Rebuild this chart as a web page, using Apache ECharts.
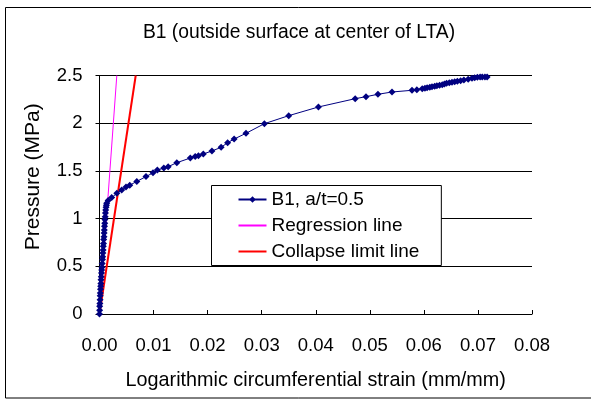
<!DOCTYPE html>
<html>
<head>
<meta charset="utf-8">
<script src="https://cdn.jsdelivr.net/npm/echarts@6/dist/echarts.min.js"></script>
<style>
html,body{margin:0;padding:0;background:#fff;}
#chart{width:591px;height:399px;}
</style>
</head>
<body>
<div id="chart"></div>
<script>
// Test data: logarithmic circumferential strain (mm/mm) vs pressure (MPa)
var testStrain = [0.0000, 0.00002, 0.00004, 0.00007, 0.00010, 0.00013, 0.00015, 0.00018, 0.00022, 0.00025,
  0.00028, 0.00032, 0.00037, 0.00041, 0.00046, 0.00050, 0.00055, 0.00059, 0.00063, 0.00067,
  0.00070, 0.00074, 0.00078, 0.00083, 0.00086, 0.00089, 0.00093, 0.00097, 0.00100, 0.00105,
  0.00110, 0.00115, 0.00121, 0.00127, 0.00133, 0.00160, 0.00226, 0.0032, 0.0041, 0.0049,
  0.0056, 0.0069, 0.0086, 0.0099, 0.0107, 0.0119, 0.0127, 0.0143, 0.0168, 0.0177,
  0.0183, 0.0192, 0.0208, 0.0225, 0.0237, 0.0249, 0.0271, 0.0305, 0.0350, 0.0405,
  0.0473, 0.0493, 0.0515, 0.0541, 0.0578, 0.0587, 0.0597, 0.0602, 0.0606, 0.0611,
  0.0615, 0.0620, 0.0624, 0.0629, 0.0634, 0.0638, 0.0642, 0.0647, 0.0652, 0.0657,
  0.0662, 0.0668, 0.0674, 0.0682, 0.0689, 0.0694, 0.0699, 0.0704, 0.0708, 0.0713, 0.0717];
var testPressure = [0.00, 0.04, 0.08, 0.11, 0.15, 0.19, 0.22, 0.26, 0.29, 0.32,
  0.36, 0.39, 0.43, 0.46, 0.49, 0.53, 0.57, 0.60, 0.64, 0.67,
  0.71, 0.74, 0.78, 0.81, 0.85, 0.88, 0.92, 0.95, 0.99, 1.02,
  1.06, 1.09, 1.12, 1.14, 1.16, 1.19, 1.22, 1.265, 1.30, 1.33,
  1.35, 1.39, 1.44, 1.48, 1.51, 1.53, 1.544, 1.586, 1.635, 1.65,
  1.66, 1.677, 1.709, 1.747, 1.796, 1.834, 1.894, 1.995, 2.079, 2.17,
  2.257, 2.278, 2.303, 2.327, 2.345, 2.351, 2.362, 2.366, 2.372, 2.377,
  2.383, 2.388, 2.393, 2.398, 2.404, 2.411, 2.418, 2.424, 2.429, 2.434,
  2.439, 2.446, 2.453, 2.461, 2.470, 2.476, 2.481, 2.483, 2.484, 2.484, 2.484];
var regressionStrain = [0, 0.0032];
var regressionPressure = [0, 2.5];
var collapseStrain = [0, 0.0067];
var collapsePressure = [0, 2.5];
var xTicks = ['0.00','0.01','0.02','0.03','0.04','0.05','0.06','0.07','0.08'];

function pairs(xs, ys){ return xs.map(function(x,i){ return [x, ys[i]]; }); }

var font = 'Liberation Sans, Arial, sans-serif';
var lineIcon = 'path://M0,0 L28,0 L28,2 L0,2 Z';
var chart = echarts.init(document.getElementById('chart'), null, {renderer:'canvas'});
chart.setOption({
  animation:false,
  backgroundColor:'#fff',
  graphic:[{type:'rect', shape:{x:5.5,y:7.5,width:620,height:390.5}, style:{fill:'none',stroke:'#000',lineWidth:1}, z:-10}],
  title:{text:'B1 (outside surface at center of LTA)', left:299, textAlign:'center', top:23, padding:0,
    textStyle:{fontFamily:font,fontSize:19.3,fontWeight:'normal',color:'#000'}},
  grid:{left:99.5, right:59, top:75.5, bottom:85, containLabel:false},
  xAxis:{type:'value', min:0, max:0.08, interval:0.01,
    name:'Logarithmic circumferential strain (mm/mm)', nameLocation:'middle', nameGap:57,
    nameTextStyle:{fontFamily:font,fontSize:19.8,color:'#000'},
    axisLine:{show:true,lineStyle:{color:'#000',width:1}},
    axisTick:{show:true,inside:true,length:4,lineStyle:{color:'#000'}},
    axisLabel:{fontFamily:font,fontSize:18.5,color:'#000',margin:22,
      formatter:function(v){ return xTicks[Math.round(v*100)]; }},
    splitLine:{show:false}},
  yAxis:{type:'value', min:0, max:2.5, interval:0.5,
    name:'Pressure (MPa)', nameLocation:'middle', nameGap:55.5,
    nameTextStyle:{fontFamily:font,fontSize:21,color:'#000',padding:[0,0,0,36]},
    axisLine:{show:true,lineStyle:{color:'#000',width:1}},
    axisTick:{show:true,inside:false,length:4,lineStyle:{color:'#000'}},
    axisLabel:{fontFamily:font,fontSize:18.5,color:'#000',margin:17},
    splitLine:{show:true,lineStyle:{color:'#000',width:1}}},
  legend:{orient:'vertical', left:211.5, top:185.5, padding:[4.5,22,4.5,26],
    backgroundColor:'#fff', borderColor:'#000', borderWidth:1,
    itemWidth:28, itemHeight:8, itemGap:7,
    textStyle:{fontFamily:font,fontSize:19,color:'#000',lineHeight:19},
    data:[{name:'B1, a/t=0.5'},{name:'Regression line',icon:lineIcon},{name:'Collapse limit line',icon:lineIcon}]},
  series:[
    {name:'B1, a/t=0.5', type:'line', data:pairs(testStrain,testPressure),
      symbol:'diamond', symbolSize:7, showAllSymbol:true,
      itemStyle:{color:'#000080'}, lineStyle:{color:'#000080',width:1}, z:3},
    {name:'Regression line', type:'line', data:pairs(regressionStrain,regressionPressure),
      symbol:'none', itemStyle:{color:'#ff00ff'}, lineStyle:{color:'#ff00ff',width:1}, z:2},
    {name:'Collapse limit line', type:'line', data:pairs(collapseStrain,collapsePressure),
      symbol:'none', itemStyle:{color:'#ff0000'}, lineStyle:{color:'#ff0000',width:2}, z:2}
  ]
});
</script>
</body>
</html>
